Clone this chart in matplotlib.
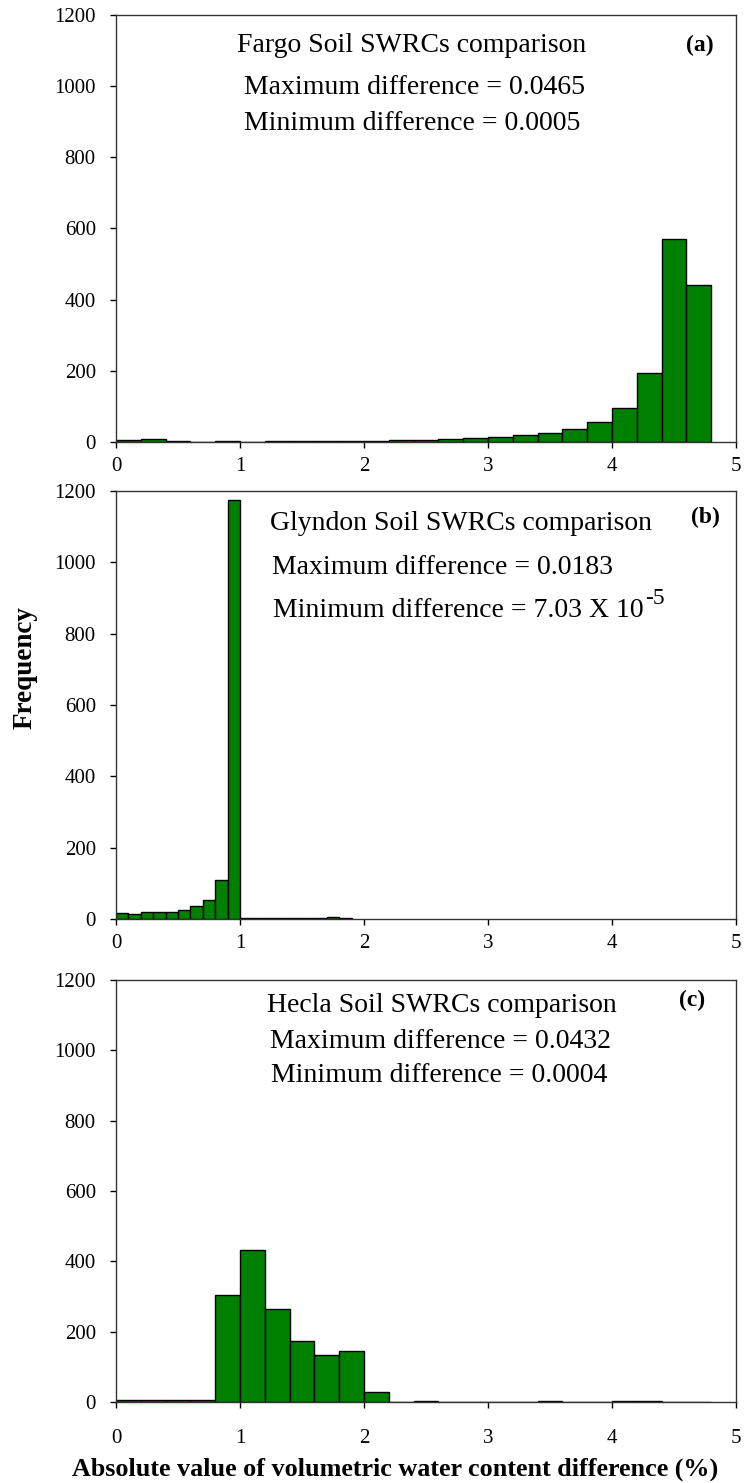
import numpy as np
import matplotlib
matplotlib.use("Agg")
import matplotlib.pyplot as plt

plt.rcParams['font.family'] = ['Liberation Serif', 'DejaVu Serif']

# ---- data ----
bins_a = np.round(np.arange(0, 4.81, 0.2), 2)   # bin edges, 0.2 wide
counts_a = [6, 9, 3, 1, 4, 1, 4, 3, 4, 4, 4, 5, 6, 8, 10, 13, 19, 26, 37, 55, 96, 193, 570, 440]

bins_b = np.round(np.arange(0, 1.91, 0.1), 2)   # bin edges, 0.1 wide
counts_b = [16, 15, 19, 21, 21, 26, 36, 54, 109, 1175, 3, 4, 2, 4, 2, 2, 2, 6, 3]

bins_c = np.round(np.arange(0, 4.81, 0.2), 2)
counts_c = [7, 5, 7, 7, 305, 432, 264, 174, 133, 146, 28, 0, 4, 0, 0, 0, 0, 4, 0, 0, 3, 3, 0, 0]

panel_titles = ["Fargo Soil SWRCs comparison",
                "Glyndon Soil SWRCs comparison",
                "Hecla Soil SWRCs comparison"]
max_diff = ["0.0465", "0.0183", "0.0432"]
min_diff = ["0.0005", "7.03 X 10", "0.0004"]
min_sup = ["", "-5", ""]
panel_tags = ["(a)", "(b)", "(c)"]
xticks = [0, 1, 2, 3, 4, 5]
yticks = [0, 200, 400, 600, 800, 1000, 1200]
ylabel = "Frequency"
xlabel = "Absolute value of volumetric water content difference (%)"

W, H = 747, 1483
fig = plt.figure(figsize=(W / 100, H / 100), dpi=100)

def fx(px):
    return px / W

def fy(py):
    return 1 - py / H

left, right = 116, 736
panel_px = [(15, 442), (491, 919), (980, 1402)]
data = [(bins_a, counts_a), (bins_b, counts_b), (bins_c, counts_c)]
xpads = [6, 6, 15]

# text layout: (x of each line, y of each line, tag position)
text_lines = [
    ([237, 244, 244], [45, 87, 123], (700, 45)),
    ([270, 272, 273], [523, 568, 610], (705, 517)),
    ([267, 270, 271], [1005, 1041, 1075], (692, 1000)),
]

tick_fs = 15
txt_fs = 20

renderer = fig.canvas.get_renderer()

for i, ((top, bot), (edges, counts)) in enumerate(zip(panel_px, data)):
    ax = fig.add_axes([fx(left), fy(bot), fx(right) - fx(left), (bot - top) / H])
    widths = np.diff(edges)
    ax.bar(edges[:-1], counts, width=widths, align='edge',
           color='#008000', edgecolor='black', linewidth=1.0)
    ax.set_xlim(0, 5)
    ax.set_ylim(0, 1200)
    ax.set_xticks(xticks)
    ax.set_yticks(yticks)
    ax.tick_params(direction='out', length=4.5, width=1, labelsize=tick_fs)
    ax.tick_params(axis='y', pad=10)
    ax.tick_params(axis='x', pad=xpads[i])
    for s in ax.spines.values():
        s.set_linewidth(1.0)
        s.set_color('#333333')

    xs, ys, tag = text_lines[i]
    lines = [panel_titles[i], "Maximum difference = " + max_diff[i],
             "Minimum difference = " + min_diff[i]]
    last = None
    for ln, xx, yy in zip(lines, xs, ys):
        last = fig.text(fx(xx), fy(yy), ln, ha='left', va='center', fontsize=txt_fs)
    if min_sup[i]:
        bb = last.get_window_extent(renderer=renderer)
        fig.text(fx(bb.x1 + 2), fy(ys[2] - 12), min_sup[i], ha='left', va='center',
                 fontsize=txt_fs * 0.85)
    fig.text(fx(tag[0]), fy(tag[1]), panel_tags[i], ha='center', va='center',
             fontsize=17, fontweight='bold')

fig.text(fx(25), fy(668), ylabel, rotation=90, ha='center', va='center',
         fontsize=19.5, fontweight='bold')
fig.text(fx(72), fy(1469), xlabel, ha='left', va='center',
         fontsize=18.8, fontweight='bold')

fig.savefig("out.png", dpi=100)
